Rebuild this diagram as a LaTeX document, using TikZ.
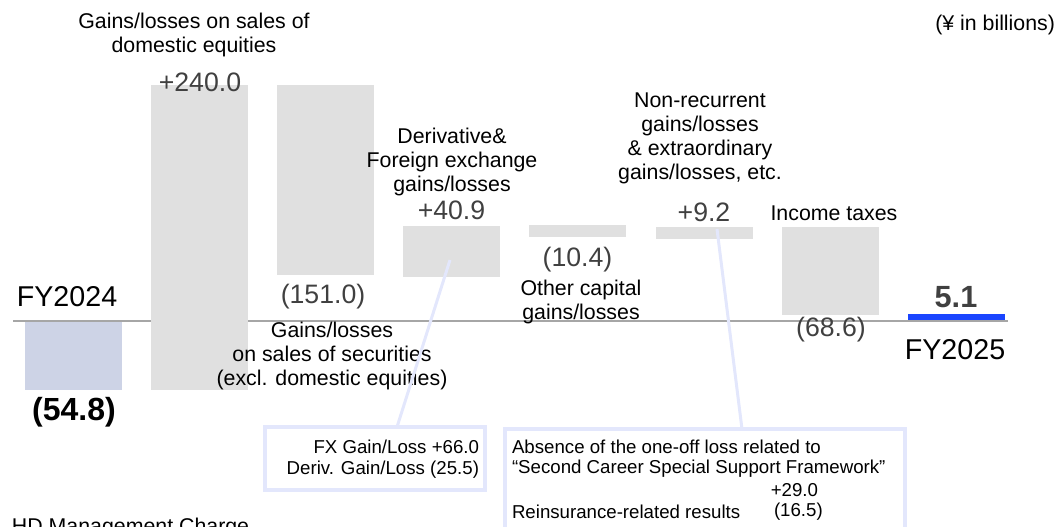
\documentclass[tikz,border=0pt]{standalone}
\usepackage{fontspec}
\setmainfont{Liberation Sans}
\usetikzlibrary{calc}
\definecolor{bargray}{HTML}{E0E0E0}
\definecolor{startbar}{HTML}{CDD3E6}
\definecolor{endbar}{HTML}{1A45FF}
\definecolor{valgray}{HTML}{404040}
\definecolor{callc}{HTML}{E3E7FC}
\definecolor{axisc}{HTML}{A6A6A6}
\newcommand\mybar[6]{\node[#6, anchor=north west, minimum width={(#4-#2)*0.75pt}, minimum height={(#5-#3)*0.75pt}] (#1) at (#2,#3) {};}
\begin{document}
\begin{tikzpicture}[x=0.75pt,y=-0.75pt,
  every node/.style={inner sep=0pt, outer sep=0pt},
  bar/.style={fill=bargray, draw=none, rectangle},
  startb/.style={fill=startbar, draw=none, rectangle},
  endb/.style={fill=endbar, draw=none, rectangle},
  lab/.style={font=\fontsize{16}{18}\selectfont, align=center, text=black},
  val/.style={font=\fontsize{20}{22}\selectfont, text=valgray},
  fy/.style={font=\fontsize{21.5}{24}\selectfont, text=black},
  tot/.style={font=\fontsize{23}{26}\selectfont\bfseries},
  small/.style={font=\fontsize{14}{16}\selectfont, text=black},
  callbox/.style={draw=callc, line width=2.5pt, fill=none, rectangle},
  callline/.style={draw=callc, line width=2.25pt},
  axis/.style={draw=axisc, line width=1.9pt}]
\useasboundingbox (0,0) rectangle (1058,527);
\clip (0,0) rectangle (1058,527);
% axis
\coordinate (ax1) at (13,321);
\coordinate (ax2) at (1008,321);
\draw[axis] (ax1) -- (ax2);
% bars
\mybar{b1}{25}{322}{122}{390}{startb}
\mybar{b2}{151}{85}{248}{390}{bar}
\mybar{b3}{277}{85}{374}{275}{bar}
\mybar{b4}{403}{226}{500}{277}{bar}
\mybar{b5}{529}{225}{626}{237}{bar}
\mybar{b6}{656}{227}{753}{239}{bar}
\mybar{b7}{782}{227}{879}{315}{bar}
\mybar{b8}{908}{314}{1005}{320}{endb}
% labels
\node[lab] (t2) at (194,34.5) {Gains/losses on sales of\\domestic equities};
\node[val] (v2) at (200,82) {+240.0};
\node[lab, anchor=east] (unit) at (1055,25) {(¥ in billions)};
\node[lab] (t4) at (452,162) {Derivative\&\\Foreign exchange\\gains/losses};
\node[val] (v4) at (451.5,210) {+40.9};
\node[val] (v5) at (577.5,260) {(10.4)};
\node[lab] (t5) at (581,302) {Other capital\\gains/losses};
\node[lab] (t6) at (700,138) {Non-recurrent\\gains/losses\\\& extraordinary\\gains/losses, etc.};
\node[val] (v6) at (704,212) {+9.2};
\node[lab] (t7) at (834,213) {Income taxes};
\node[val] (v3) at (323,297) {(151.0)};
\node[lab] (t3) at (332,356) {Gains/losses\\on sales of securities\\(excl. domestic equities)};
\node[val] (v7) at (831,330) {(68.6)};
\node[fy] (fy24) at (67,297) {FY2024};
\node[tot, text=black, font=\fontsize{24}{26}\selectfont\bfseries] (v1) at (74,412) {(54.8)};
\node[tot, text=valgray] (v8) at (956,297) {5.1};
\node[fy] (fy25) at (955,350) {FY2025};
% callout boxes
\node[callbox, anchor=north west, minimum width={(485-265)*0.75pt}, minimum height={(490-427)*0.75pt}] (box1) at (265,427) {};
\node[small, anchor=east] (f1) at (479,447) {FX Gain/Loss +66.0};
\node[small, anchor=east] (f2) at (479,470) {Deriv. Gain/Loss (25.5)};
\node[callbox, anchor=north west, minimum width={(905-505)*0.75pt}, minimum height={(570-429)*0.75pt}] (box2) at (505,429) {};
\node[small, anchor=west] (g1) at (512,447) {Absence of the one-off loss related to};
\node[small, anchor=west] (g2) at (512,469) {“Second Career Special Support Framework”};
\node[small, anchor=east] (g3) at (818,490) {+29.0};
\node[small, anchor=west] (g4) at (512,512) {Reinsurance-related results};
\node[small, anchor=west] (g5) at (774,512) {(16.5)};
% connectors
\coordinate (p4) at ($(b4.center)+(-1.5,8.5)$);
\coordinate (q4) at ($(box1.north west)+(132,0)$);
\draw[callline] (p4) -- (q4);
\coordinate (p6) at ($(b6.north)+(12.5,2)$);
\coordinate (q6) at ($(box2.north west)+(237,0)$);
\draw[callline] (p6) -- (q6);
% bottom cut text
\node[lab, anchor=base west] (hd) at (12,534) {HD Management Charge};
\end{tikzpicture}
\end{document}
